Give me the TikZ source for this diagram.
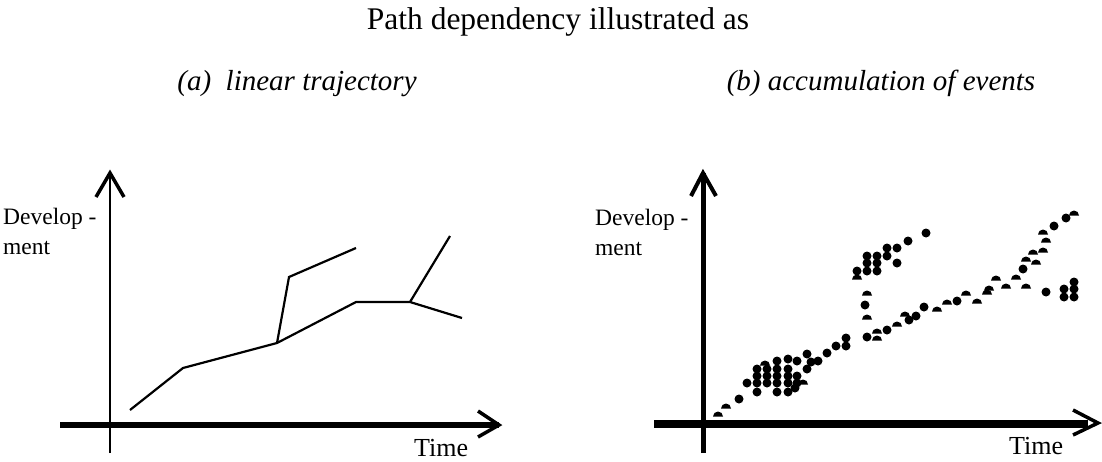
\documentclass[tikz,border=0pt]{standalone}
\usepackage{fontspec}
\setmainfont{Liberation Serif}
\begin{document}
\begin{tikzpicture}[x=1pt,y=-1pt,
  thinline/.style={line width=2.2pt,line join=miter},
  armline/.style={line width=3.5pt},
  lbl/.style={inner sep=0pt,font=\fontsize{23.5}{28}\selectfont},
  timelbl/.style={inner sep=0pt,font=\fontsize{26}{30}\selectfont},
  sub/.style={inner sep=0pt,anchor=base,font=\fontsize{29}{34}\selectfont\itshape},
  dotfill/.style={fill=black}]
\useasboundingbox (0,0) rectangle (1102,461);
% titles
\node[inner sep=0pt,anchor=base,font=\fontsize{31.5}{36}\selectfont] (title) at (558,29) {Path dependency illustrated as};
\node[sub] (suba) at (297,90) {(a)\ \ linear trajectory};
\node[sub] (subb) at (881,90) {(b) accumulation of events};
% ---------- left plot ----------
\coordinate (lyb) at (110,453); \coordinate (lyt) at (110,173);
\coordinate (lyl) at (96,197); \coordinate (lyr) at (124,197);
\coordinate (lxl) at (60,425); \coordinate (lxr) at (499,425);
\coordinate (lxu) at (478,411); \coordinate (lxd) at (478,437);
\draw[line width=2pt] (lyb) -- (lyt);
\draw[armline] (lyl) -- (lyt) -- (lyr);
\draw[line width=6pt] (lxl) -- (lxr);
\draw[armline] (lxu) -- (lxr) -- (lxd);
\node[lbl,anchor=base west] (ldev) at (3,224) {Develop -};
\node[lbl,anchor=base west] (lment) at (3,254) {ment};
\node[timelbl,anchor=base west] (ltime) at (414,456) {Time};
\coordinate (p1) at (130,410); \coordinate (p2) at (183,368);
\coordinate (p3) at (277,343); \coordinate (p4) at (356,302);
\coordinate (p5) at (410,302); \coordinate (p6) at (462,318);
\coordinate (b1) at (289,277); \coordinate (b2) at (356,248);
\coordinate (b3) at (450,236);
\draw[thinline] (p1) -- (p2) -- (p3) -- (p4) -- (p5) -- (p6);
\draw[thinline] (p3) -- (b1) -- (b2);
\draw[thinline] (p5) -- (b3);
% ---------- right plot ----------
\coordinate (ryb) at (703,453); \coordinate (ryt) at (703,173);
\coordinate (ryl) at (691,196); \coordinate (ryr) at (716,196);
\coordinate (rxl) at (654,424); \coordinate (rxr) at (1098,423);
\coordinate (rxu) at (1073,410); \coordinate (rxd) at (1073,435);
\draw[line width=5pt] (ryb) -- (ryt);
\draw[line width=4pt] (ryl) -- (ryt) -- (ryr);
\draw[line width=8pt] (rxl) -- (1088,424);
\draw[armline] (rxu) -- (rxr) -- (rxd);
\node[lbl,anchor=base west] (rdev) at (595,225) {Develop -};
\node[lbl,anchor=base west] (rment) at (595,255) {ment};
\node[timelbl,anchor=base west] (rtime) at (1009,454) {Time};
% full dots
\foreach \x/\y in {739/399,747/383,
  757/392,757/383,757/376,757/369,
  767/383,767/376,767/369,
  777/392,777/383,777/376,777/369,777/361,
  788/392,788/383,788/376,788/369,788/359,
  797/383,797/376,797/361,795/388,
  807/369,807/354,811/362,818/361,827/353,
  836/346,846/346,846/338,
  867/337,887/330,909/320,916/316,924/307,957/301,1023/269,1054/226,1066/218,1046/292,
  1064/289,1064/297,1074/282,1074/289,1074/297,
  857/271,867/256,867/263,867/271,877/256,877/263,877/271,887/248,887/256,897/248,897/263,908/241,926/233,
  865/305}
  \fill[dotfill] (\x,\y) circle (4.5);
% half dots (top halves)
\foreach \x/\y in {718/414,726/406,765/363,803/382,877/338,877/331,
  897/324,905/314,937/309,947/302,966/293,977/301,987/292,989/288,996/278,1006/286,1016/277,
  1026/259,1026/286,1036/262,1033/252,1043/250,1046/240,1043/232,1074/213,857/277,867/293,867/317}
  \fill[dotfill] (\x-5,\y+2.5) arc[start angle=180,end angle=360,radius=5] -- cycle;
\end{tikzpicture}
\end{document}
